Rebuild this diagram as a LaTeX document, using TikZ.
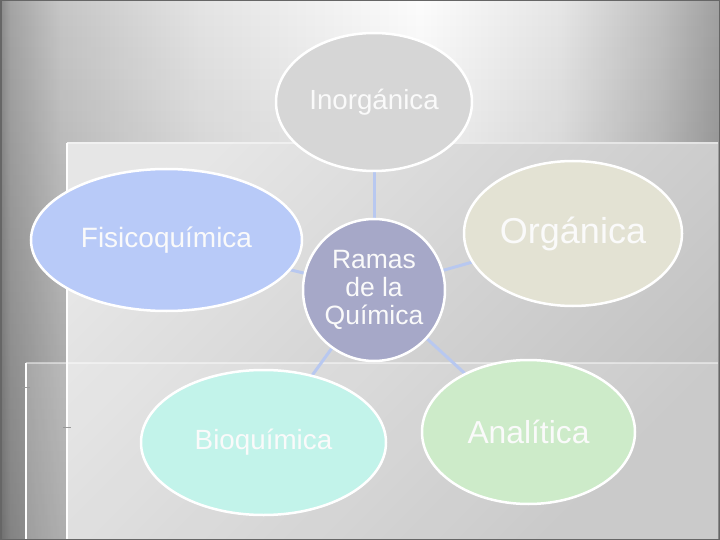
\documentclass[tikz,border=0pt]{standalone}
\usepackage{fontspec}
\setmainfont{Liberation Sans}
\usetikzlibrary{shapes.geometric,fadings}
\pgfdeclarelayer{bg}
\pgfdeclarelayer{links}
\pgfsetlayers{bg,links,main}
\definecolor{cInorg}{HTML}{D6D6D6}
\definecolor{cFisico}{HTML}{B8CAF8}
\definecolor{cRamas}{HTML}{A6A8C8}
\definecolor{cOrg}{HTML}{E3E2D3}
\definecolor{cBio}{HTML}{C2F3EA}
\definecolor{cAnal}{HTML}{CDEBC9}
\definecolor{cLink}{HTML}{B8C8F0}
\definecolor{cTxt}{HTML}{FAFAFA}
\definecolor{g0}{HTML}{8A8A8A}
\definecolor{g1}{HTML}{A4A4A4}
\definecolor{g2}{HTML}{C6C6C6}
\definecolor{g3}{HTML}{E4E4E4}
\definecolor{g4}{HTML}{FCFCFC}
\definecolor{g5}{HTML}{E6E6E6}
\definecolor{g6}{HTML}{C0C0C0}
\definecolor{g7}{HTML}{A0A0A0}
\definecolor{pA}{HTML}{E6E6E6}
\definecolor{pB}{HTML}{C0C0C0}
% x px -> 25 + x*50/720 bp
\pgfdeclarehorizontalshading{basebg}{100bp}{color(0bp)=(g0); color(25bp)=(g0); color(25.7bp)=(g1); color(29.2bp)=(g2); color(38.9bp)=(g3); color(54.2bp)=(g4); color(63.9bp)=(g5); color(70.8bp)=(g6); color(75bp)=(g7); color(100bp)=(g7)}
\tikzset{
  ell/.style={ellipse, draw=white, line width=2.5pt, inner sep=0pt, text=cTxt, align=center},
  link/.style={draw=cLink, line width=3pt},
  edgeline/.style={draw=white, line width=2.5pt},
  tick/.style={draw=gray!80, line width=0.8pt}
}
\begin{document}
\begin{tikzpicture}[x=1pt,y=-1pt]
\useasboundingbox (0,0) rectangle (720,540);
\begin{pgfonlayer}{bg}
  \shade[shading=basebg] (0,0) rectangle (720,540);
  \fill[black, opacity=0.2, path fading=north] (0,0) rectangle (720,540);
  % panel 1
  \shade[top color=pA, bottom color=pB, shading angle=45] (67,143) rectangle (718,540);
  \draw[white, opacity=0.45, line width=1.5pt] (67,143) -- (718,143);
  \draw[edgeline] (67,143) -- (67,540);
  % panel 2
  \fill[white, opacity=0.16] (26,363) rectangle (718,540);
  \draw[white, opacity=0.45, line width=1.5pt] (26,363) -- (718,363);
  \draw[edgeline] (26,363) -- (26,540);
  \draw[tick] (22,387) -- (30,387);
  \draw[tick] (63,427) -- (71,427);
  \draw[draw=black!60, line width=1.5pt] (0.75,0.75) rectangle (719.25,539.25);
\end{pgfonlayer}

\node[ell, fill=cInorg, minimum width=196pt, minimum height=138pt,
      font=\fontsize{27.7}{32}\selectfont] (inorg) at (374,102) {Inorgánica};
\node[ell, fill=cFisico, minimum width=271pt, minimum height=142pt,
      font=\fontsize{28}{32}\selectfont] (fisico) at (166.5,240) {Fisicoquímica};
\node[ell, fill=cRamas, minimum width=142pt, minimum height=142pt,
      font=\fontsize{26.5}{28.3}\selectfont] (ramas) at (374,290) {Ramas\\de la\\Química};
\node[ell, fill=cOrg, minimum width=218pt, minimum height=145pt,
      font=\fontsize{36}{40}\selectfont] (org) at (573,233.5) {Orgánica};
\node[ell, fill=cBio, minimum width=245pt, minimum height=145pt,
      font=\fontsize{27.8}{32}\selectfont] (bio) at (263.5,442.5) {Bioquímica};
\node[ell, fill=cAnal, minimum width=213pt, minimum height=144pt,
      font=\fontsize{31.8}{36}\selectfont] (anal) at (528.5,432) {Analítica};

\begin{pgfonlayer}{links}
  \draw[link] (ramas.center) -- (inorg.center);
  \draw[link] (ramas.center) -- (fisico.center);
  \draw[link] (ramas.center) -- (org.center);
  \draw[link] (ramas.center) -- (bio.center);
  \draw[link] (ramas.center) -- (anal.center);
\end{pgfonlayer}
\end{tikzpicture}
\end{document}
